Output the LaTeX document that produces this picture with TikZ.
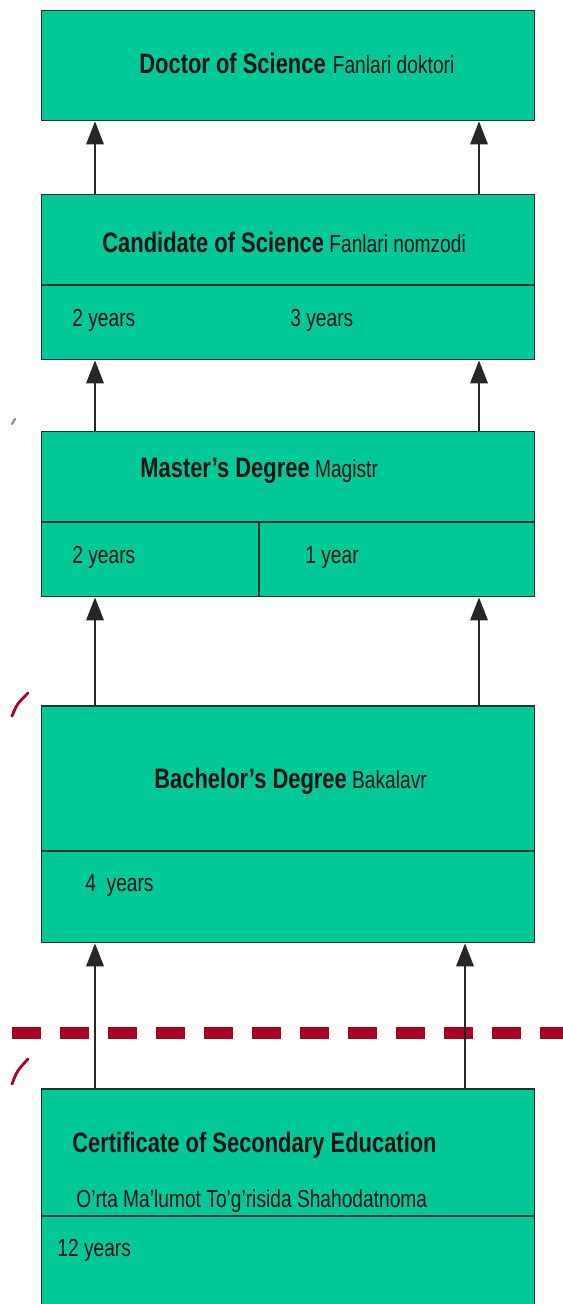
\documentclass[tikz,border=0pt]{standalone}
\usepackage{fontspec}
\setmainfont{Liberation Sans}[FakeStretch=0.78]
\usepackage{tikz}
\usetikzlibrary{arrows.meta}

\definecolor{boxgreen}{RGB}{0,201,151}
\definecolor{boxline}{RGB}{32,52,40}
\definecolor{linered}{RGB}{168,0,36}

\newcommand{\bigt}{\fontsize{16}{19}\selectfont\bfseries}
\newcommand{\smallt}{\fontsize{14}{17}\selectfont}

\tikzset{
  level/.style={draw=boxline, fill=boxgreen, line width=0.85pt, anchor=north west,
    minimum width=9.86cm, inner sep=0pt},
  lbl/.style={anchor=base west, inner sep=0pt, text=black!92},
  up/.style={draw=black!85, line width=0.75pt, -{Triangle[length=13pt,width=10pt]}},
  redstroke/.style={draw=linered, line width=1.6pt, line cap=round}
}

\begin{document}
\begin{tikzpicture}[x=0.02cm, y=-0.02cm]
        \clip (0,0) rectangle (563,1304);
        \fill[white] (0,0) rectangle (563,1304);

        \node[level, minimum height=2.2cm] (doc) at (41,10) {};
        \node[level, minimum height=3.3cm] (cand) at (41,194) {};
        \node[level, minimum height=3.3cm] (mag) at (41,431) {};
        \node[level, minimum height=4.74cm] (bak) at (41,705) {};
        \node[level, minimum height=4.8cm] (cert) at (41,1088) {};

        % dividers
        \draw[boxline, line width=0.85pt] (cand.west |- 0,285) -- (cand.east |- 0,285);
        \draw[boxline, line width=0.85pt] (mag.west |- 0,522) -- (mag.east |- 0,522);
        \draw[boxline, line width=0.85pt] (259,522) -- (mag.south -| 259,0);
        \draw[boxline, line width=0.85pt] (bak.west |- 0,851) -- (bak.east |- 0,851);
        \draw[boxline, line width=0.85pt] (cert.west |- 0,1216) -- (cert.east |- 0,1216);

        \node[lbl] (doctxt) at (139,74) {{\bigt Doctor of Science}\hspace{4pt}{\smallt Fanlari doktori}};
        \node[lbl] (candtxt) at (102,253) {{\bigt Candidate of Science}\hspace{3pt}{\smallt Fanlari nomzodi}};
        \node[lbl] (candy1) at (72,326) {\smallt 2 years};
        \node[lbl] (candy2) at (290,326) {\smallt 3 years};
        \node[lbl] (magtxt) at (140,477) {{\bigt Master’s Degree}\hspace{3pt}{\smallt Magistr}};
        \node[lbl] (magy1) at (72,563) {\smallt 2 years};
        \node[lbl] (magy2) at (305,563) {\smallt 1 year};
        \node[lbl] (baktxt) at (154,788) {{\bigt Bachelor’s Degree}\hspace{3pt}{\smallt Bakalavr}};
        \node[lbl] (baky) at (85,891) {\smallt 4\ \ years};
        \node[lbl] (certtxt) at (72,1152) {\bigt Certificate of Secondary Education};
        \node[lbl] (certuz) at (76,1207) {\smallt O’rta Ma’lumot To’g’risida Shahodatnoma};
        \node[lbl] (certy) at (57,1256) {\smallt 12 years};

        \coordinate (l) at (95,0);
        \coordinate (r) at (479,0);
        \coordinate (rb) at (465,0);

        \draw[up] (cand.north -| l) -- (doc.south -| l);
        \draw[up] (cand.north -| r) -- (doc.south -| r);
        \draw[up] (mag.north -| l) -- (cand.south -| l);
        \draw[up] (mag.north -| r) -- (cand.south -| r);
        \draw[up] (bak.north -| l) -- (mag.south -| l);
        \draw[up] (bak.north -| r) -- (mag.south -| r);

        % secondary / higher boundary
        \draw[linered, line width=6.8pt, dash pattern=on 16.5pt off 10.8pt] (12,1033) -- (575,1033);

        \draw[up] (cert.north -| l) -- (bak.south -| l);
        \draw[up] (cert.north -| rb) -- (bak.south -| rb);

        % stray marks at the left edge
        \draw[redstroke, draw=black!45, line width=1.2pt] (12,424) -- (15,419);
        \draw[redstroke] (12,716) .. controls (17,704) .. (28,693);
        \draw[redstroke] (12,1084) .. controls (17,1071) .. (28,1059);
\end{tikzpicture}
\end{document}
